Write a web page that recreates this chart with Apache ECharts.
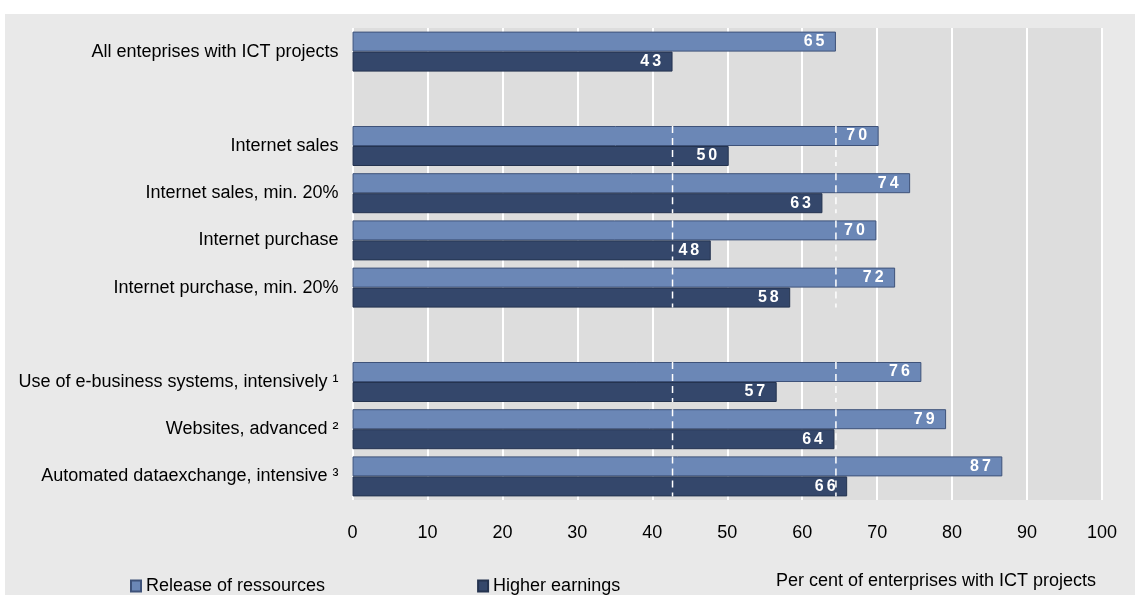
<!DOCTYPE html>
<html>
<head>
<meta charset="utf-8">
<script src="https://cdn.jsdelivr.net/npm/echarts@6/dist/echarts.min.js"></script>
<style>
html,body{margin:0;padding:0;background:#ffffff;}
#bg{position:absolute;left:5px;top:14px;width:1130px;height:581px;background:#e9e9e9;}
#chart{position:absolute;left:0;top:0;width:1135px;height:595px;}
</style>
</head>
<body>
<div id="bg"></div>
<div id="chart"></div>
<script>
// Categories (blank entries are spacer rows between groups)
const categories = [
  'All enteprises with ICT projects',
  ' ',
  'Internet sales',
  'Internet sales, min. 20%',
  'Internet purchase',
  'Internet purchase, min. 20%',
  '  ',
  'Use of e-business systems, intensively \u00b9',
  'Websites, advanced \u00b2',
  'Automated dataexchange, intensive \u00b3'
];
const releaseOfResources = [64.5, null, 70.2, 74.4, 69.9, 72.4, null, 75.9, 79.2, 86.7];
const higherEarnings     = [42.7, null, 50.2, 62.7, 47.8, 58.4, null, 56.6, 64.3, 66.0];
const xTicks = { min: 0, max: 100, interval: 10 };
const seriesNames = ['Release of ressources', 'Higher earnings'];
const axisTitle = 'Per cent of enterprises with ICT projects';
// Reference lines: the "All enterprises" values, drawn across the other groups
const refCategoryIdx = [2, 3, 4, 5, 7, 8, 9];

const refData = [];
refCategoryIdx.forEach(function (ci) {
  refData.push([releaseOfResources[0], ci]);
  refData.push([higherEarnings[0], ci]);
});

const font = '"Liberation Sans", Arial, sans-serif';
const chart = echarts.init(document.getElementById('chart'), null, { renderer: 'canvas' });

const valueLabel = {
  show: true,
  position: 'insideRight',
  distance: 10,
  color: '#ffffff',
  fontWeight: 'bold',
  fontSize: 16,
  fontFamily: font,
  formatter: function (p) {
    if (p.value == null) return '';
    return String(Math.round(p.value)).split('').map(function (d) { return '{d|' + d + '}'; }).join('');
  },
  rich: {
    d: { color: '#ffffff', fontWeight: 'bold', fontSize: 16, fontFamily: font, padding: [0, 1.5, 0, 1.5] }
  }
};

chart.setOption({
  backgroundColor: 'transparent',
  animation: false,
  title: {
    text: axisTitle,
    right: 34,
    top: 567,
    textStyle: { fontSize: 18, fontWeight: 'normal', color: '#000', fontFamily: font }
  },
  legend: {
    data: seriesNames,
    left: 125,
    top: 572,
    itemGap: 152,
    itemWidth: 10,
    itemHeight: 11,
    icon: 'rect',
    textStyle: { fontSize: 18, color: '#000', fontFamily: font }
  },
  grid: {
    left: 352.5, right: 33, top: 28, bottom: 95,
    show: true, backgroundColor: '#dddddd', borderWidth: 0
  },
  xAxis: {
    type: 'value',
    min: xTicks.min, max: xTicks.max, interval: xTicks.interval,
    axisLine: { show: false },
    axisTick: { show: false },
    splitLine: { show: true, lineStyle: { color: '#ffffff', width: 2 } },
    axisLabel: { fontSize: 18, color: '#000', margin: 24, fontFamily: font }
  },
  yAxis: {
    type: 'category',
    inverse: true,
    data: categories,
    axisLine: { show: false },
    axisTick: { show: false },
    splitLine: { show: false },
    axisLabel: { fontSize: 18, color: '#000', margin: 14, fontFamily: font, padding: [4, 0, 0, 0] }
  },
  series: [
    {
      name: seriesNames[0], type: 'bar', data: releaseOfResources,
      barWidth: 20, barGap: '0%',
      itemStyle: { color: '#6b87b6', borderColor: '#3e5279', borderWidth: 1 },
      label: valueLabel, z: 2
    },
    {
      name: seriesNames[1], type: 'bar', data: higherEarnings,
      barWidth: 20, barGap: '0%',
      itemStyle: { color: '#34476b', borderColor: '#24334f', borderWidth: 1 },
      label: valueLabel, z: 2
    },
    {
      name: 'ref', type: 'custom', data: refData,
      encode: { x: 0, y: 1 }, z: 3, silent: true,
      renderItem: function (params, api) {
        const c = api.coord([api.value(0), api.value(1)]);
        return {
          type: 'line',
          shape: { x1: c[0], y1: c[1] - 20, x2: c[0], y2: c[1] + 20 },
          style: { stroke: '#ffffff', lineWidth: 1.5, lineDash: [7, 5] }
        };
      }
    }
  ]
});
</script>
</body>
</html>
